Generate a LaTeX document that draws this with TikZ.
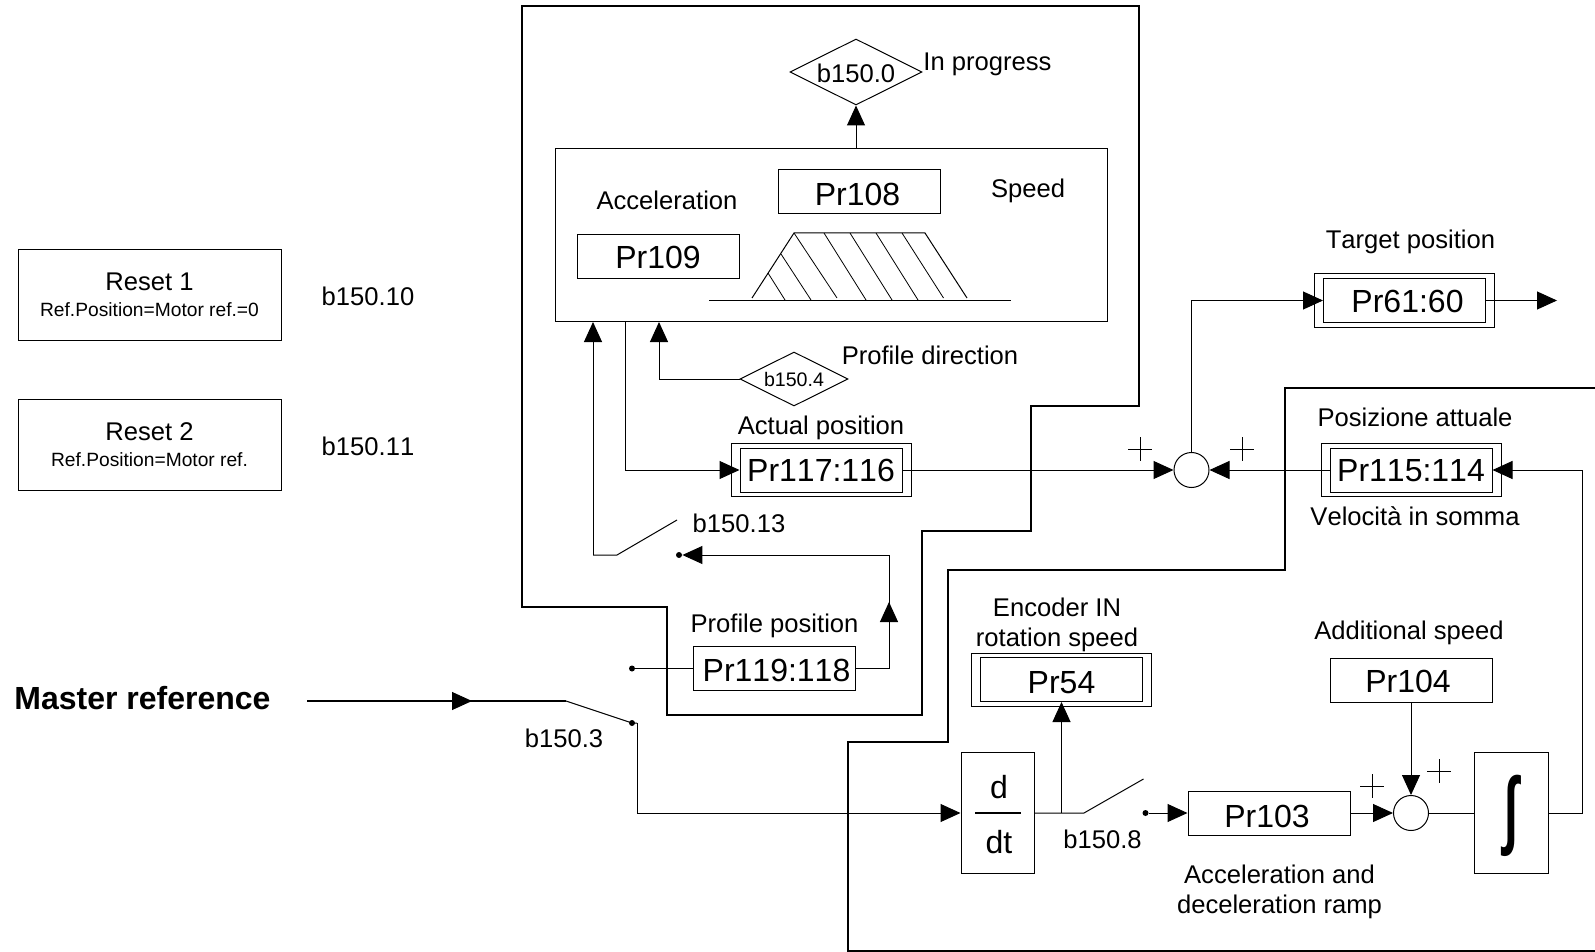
\documentclass[tikz,border=0pt]{standalone}
\usepackage{fontspec}
\setsansfont[Kerning=Off]{Liberation Sans}
\usetikzlibrary{arrows.meta,positioning,shapes.geometric,shapes.misc,fit}
\begin{document}
\begin{tikzpicture}[x=0.5pt,y=-0.5pt,font=\sffamily\fontsize{12.8}{15}\selectfont,
  thn/.style={line width=0.5pt},
  thk/.style={line width=1.25pt},
  arr/.style={-{Triangle[length=10pt,width=9pt]},line width=0.5pt},
  frame/.style={draw,line width=0.5pt,inner sep=0pt},
  bx/.style={frame,minimum width=81pt,minimum height=22pt,text height=13pt,text depth=0pt,font=\sffamily\fontsize{16}{19}\selectfont},
  outerbx/.style={frame,inner xsep=4.25pt,inner ysep=2pt,fit=#1},
  cond/.style={frame,diamond,aspect=2,minimum width=#1,minimum height=0.5*#1},
  sumj/.style={frame,circle,minimum size=17.5pt},
  dot/.style={circle,fill,inner sep=0pt,minimum size=3pt},
  lbl/.style={inner sep=0pt,align=center},
  plusmark/.style={cross out,draw,line width=0.35pt,rotate=45,minimum size=7.8pt,inner sep=0pt}]
\useasboundingbox (0,0) rectangle (1595,952);
% thick outlines
\draw[thk] (522,6) -- (1139,6) -- (1139,406) -- (1031,406) -- (1031,531) -- (922,531) -- (922,715) -- (667,715) -- (667,607) -- (522,607) -- cycle;
\draw[thk] (1595,388) -- (1285,388) -- (1285,570) -- (948,570) -- (948,742) -- (848,742) -- (848,951) -- (1595,951);
% reset boxes
\node[frame,minimum width=131.5pt,minimum height=45.5pt,align=center] (rst1) at (149.5,295) {Reset 1\\[-2pt]{\fontsize{9.6}{11}\selectfont Ref.Position=Motor ref.=0}};
\node[frame,minimum width=131.5pt,minimum height=45.5pt,align=center] (rst2) at (149.5,445) {Reset 2\\[-2pt]{\fontsize{9.6}{11}\selectfont Ref.Position=Motor ref.}};
\node[lbl] at (368,296) {b150.10};
\node[lbl] at (368,446) {b150.11};
% profile generator
\node[frame,minimum width=276pt,minimum height=86.5pt] (prof) at (831.5,235) {};
\node[bx,text height=14pt] (pr108) at (859.5,191.5) {Pr108\hspace*{2pt}};
\node[bx,text height=12pt] (pr109) at (658,256.5) {Pr109};
\node[lbl] at (667,200) {Acceleration};
\node[lbl] at (1028,191) {Speed};
\draw[thn] (709,300) -- (1011,300);
\draw[thn] (752,298) -- (794,233) -- (925,233) -- (967,298);
\foreach \xa/\ya/\xb/\yb in {768/273/785/300,781/254/811/300,794/233/837/298,824/233/866/300,850/233/892/300,876/233/918/300,902/233/943.5/298}
  \draw[line width=0.4pt] (\xa,\ya) -- (\xb,\yb);
\node[cond=66pt,text height=10.5pt] (b1500) at (856,72) {b150.0};
\node[lbl,anchor=west] at (923,64) {In progress};
\node[cond=54pt,font=\sffamily\fontsize{9.8}{12}\selectfont] (b1504) at (794,379) {b150.4};
\node[lbl] at (930,355) {Profile direction};
% position registers
\node[bx,text height=11.5pt] (pr117) at (821,470) {Pr117:116};
\node[outerbx=(pr117)] (pr117o) {};
\node[lbl,above=1.5pt of pr117o] {Actual position};
\node[bx] (pr119) at (774.5,668.5) {\hspace*{2pt}Pr119:118};
\node[lbl,above=4pt of pr119] {Profile position};
\node[bx,text height=12pt] (pr61) at (1404.5,300.5) {\hspace*{3pt}Pr61:60};
\node[outerbx=(pr61)] (pr61o) {};
\node[lbl,above=9.5pt of pr61o,xshift=3pt] {Target position};
\node[bx,text height=11.5pt] (pr115) at (1411,470) {Pr115:114};
\node[outerbx=(pr115)] (pr115o) {};
\node[lbl,above=8pt of pr115o,xshift=2pt] {Posizione attuale};
\node[lbl,below=4.5pt of pr115o,xshift=2pt] {Velocità in somma};
\node[sumj] (sum1) at (1191.5,470) {};
\node[plusmark] (plus1) at (1140,449) {};
\node[plusmark] (plus2) at (1242,449) {};
% speed chain
\node[frame,minimum width=36.5pt,minimum height=60.5pt] (ddt) at (997.5,813) {};
\node[lbl,font=\sffamily\fontsize{16}{19}\selectfont] at (999,787) {d};
\node[lbl,font=\sffamily\fontsize{16}{19}\selectfont] at (999,842) {dt};
\draw[line width=1pt] (975,813) -- (1020.5,813);
\node[bx,text height=14pt] (pr54) at (1061.5,679.5) {Pr54};
\node[outerbx=(pr54)] (pr54o) {};
\node[lbl] at (1057,625) {Encoder IN\\rotation speed};
\node[bx,text height=14pt] (pr103) at (1269,813) {Pr103\hspace*{2pt}};
\node[lbl] at (1279.5,892) {Acceleration and\\deceleration ramp};
\node[bx,text height=12pt] (pr104) at (1411,680) {Pr104\hspace*{3pt}};
\node[lbl,above=6pt of pr104,xshift=-1pt] {Additional speed};
\node[sumj] (sum2) at (1411,813) {};
\node[plusmark] (plus3) at (1372,786) {};
\node[plusmark] (plus4) at (1439,771) {};
\node[frame,minimum width=37pt,minimum height=60.5pt] (intg) at (1511,813) {};
\node[inner sep=0pt,xscale=0.65,yscale=1.13,font=\sffamily\bfseries\fontsize{38}{38}\selectfont] at (1511,816) {∫};
\node[lbl,font=\bfseries\sffamily\fontsize{16}{19}\selectfont,anchor=west] (master) at (14,698) {Master reference};
% switches
\coordinate (mstart) at (307,701);
\coordinate (mtip) at (472,701);
\coordinate (mknee) at (566,701);
\node[dot] (msw) at (632,723) {};
\coordinate (mout) at (637,723);
\node[lbl] at (564,738) {b150.3};
\coordinate (swa) at (617,555);
\coordinate (swab) at (593,555);
\coordinate (swb) at (677,520);
\node[dot] (swc) at (679,555) {};
\node[lbl] at (739,523) {b150.13};
\node[dot] (swd) at (632,668.5) {};
\coordinate (swe) at (1084,813);
\coordinate (swf) at (1143.5,779);
\node[dot] (swg) at (1145.5,813) {};
\node[lbl] at (1102.5,839) {b150.8};
\coordinate (profin) at (593,322);
\coordinate (profout) at (625,322);
\coordinate (dirin) at (659,322);
\coordinate (retk) at (889,668.5);
\coordinate (rettip) at (889,602);
\coordinate (rettop) at (889,555);
\coordinate (spdk) at (1061.5,813);
\coordinate (fbk) at (1582,470);
\coordinate (tgtend) at (1557,300.5);
% connectors
\draw[arr] (prof.north -| b1500.south) -- (b1500.south);
\draw[arr] (b1504.west) -| (dirin);
\draw[arr] (profout) |- (pr117.west);
\draw[thn] (swb) -- (swa) -- (swab);
\draw[arr] (swab) -- (profin);
\draw[thn] (swd) -- (pr119.west);
\draw[thn] (pr119.east) -| (rettop);
\draw[arr] (retk) -- (rettip);
\draw[arr] (rettop) -- (swc.east);
\draw[arr] (pr117.east) -- (sum1.west);
\draw[arr] (pr115.west) -- (sum1.east);
\draw[arr] (sum1.north) |- (pr61.west);
\draw[arr] (pr61.east) -- (tgtend);
\draw[line width=0.8pt] (mstart) -- (mknee);
\draw[arr] (mstart) -- (mtip);
\draw[thn] (mknee) -- (msw.center) -- (mout);
\draw[arr] (mout) |- (ddt.west);
\draw[thn] (ddt.east) -- (swe) -- (swf);
\draw[arr] (spdk) -- (pr54.south);
\draw[arr] (swg) -- (pr103.west);
\draw[arr] (pr103.east) -- (sum2.west);
\draw[arr] (pr104.south) -- (sum2.north);
\draw[thn] (sum2.east) -- (intg.west);
\draw[arr] (intg.east) -| (fbk) -- (pr115.east);
\end{tikzpicture}
\end{document}
